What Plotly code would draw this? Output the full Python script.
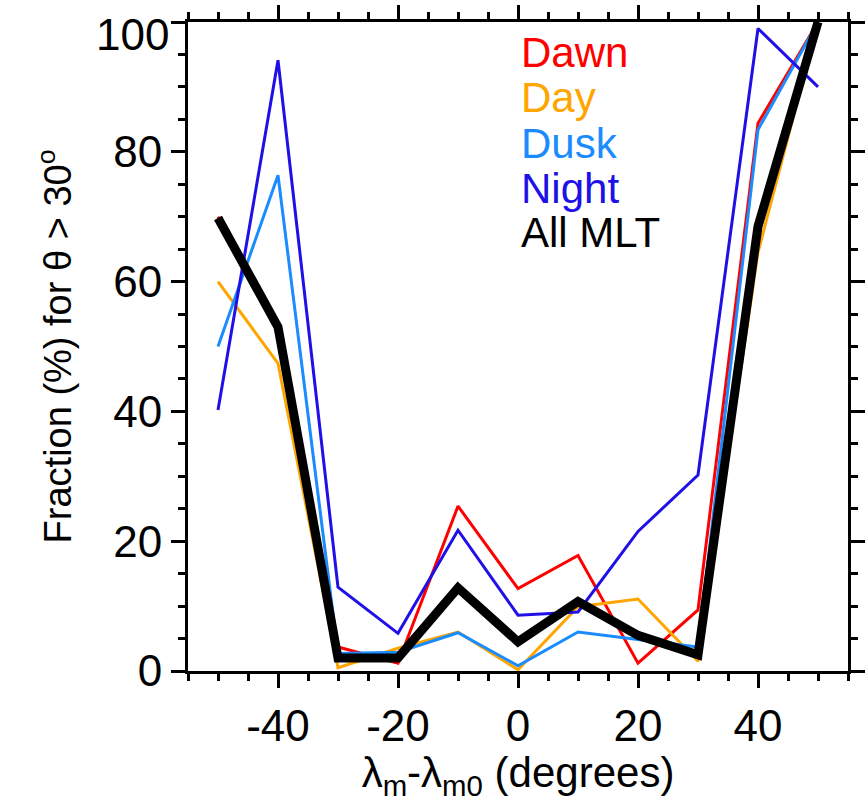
import plotly.graph_objects as go

# Magnetic latitude offset bins (degrees)
lat_offset = [-50, -40, -30, -20, -10, 0, 10, 20, 30, 40, 50]

# Fraction (%) of events with theta > 30 deg, per MLT sector
dawn = [70, 53, 3.7, 1.2, 25.4, 12.7, 17.8, 1.2, 9.4, 84.4, 100]
day = [60, 47.4, 0.5, 3.5, 6.0, 0.2, 9.9, 11.1, 1.5, 64.5, 100]
dusk = [50, 76.4, 2.7, 2.9, 5.9, 0.8, 6.0, 4.8, 3.7, 83.4, 100]
night = [40.2, 94.1, 12.9, 5.8, 21.7, 8.6, 9.1, 21.5, 30.2, 99.0, 90]
all_mlt = [69.8, 53, 2.0, 2.0, 12.8, 4.5, 10.7, 5.5, 2.5, 68.5, 100]

series_names = ["Dawn", "Day", "Dusk", "Night", "All MLT"]
series_values = [dawn, day, dusk, night, all_mlt]
series_colors = ["#FF0000", "#FFA500", "#1A8CFF", "#2010E8", "#000000"]
series_widths = [3, 3, 3, 3, 9]

x_ticks = [-40, -20, 0, 20, 40]
y_ticks = [0, 20, 40, 60, 80, 100]
x_range = [-55, 55]
y_range = [0, 100]

FONT = "Liberation Sans, Arial, Helvetica, sans-serif"
TICK_FONT = dict(family=FONT, size=44, color="black")

fig = go.Figure()
for name, vals, col, w in zip(series_names, series_values, series_colors, series_widths):
    fig.add_trace(go.Scatter(
        x=lat_offset, y=vals, mode="lines", name=name,
        line=dict(color=col, width=w), showlegend=False,
    ))

# Coloured text key in the upper middle of the panel
key_y = [0.953, 0.884, 0.813, 0.744, 0.675]
for name, col, yk in zip(series_names, series_colors, key_y):
    fig.add_annotation(
        x=0.502, y=yk, xref="paper", yref="paper", text=name,
        showarrow=False, xanchor="left", yanchor="middle",
        font=dict(family=FONT, size=42, color=col),
    )

# The top y label would run off the page, so it is drawn nudged down
y_tick_text = [str(v) for v in y_ticks]
top_label = y_tick_text[-1]
y_tick_text[-1] = ""
fig.add_annotation(
    x=0, y=1, xref="paper", yref="paper", text=top_label,
    showarrow=False, xanchor="right", yanchor="top",
    xshift=-17, yshift=14, font=TICK_FONT,
)

minor_ticks = dict(dtick=5, tick0=0, ticks="outside", ticklen=7, tickwidth=2.5, tickcolor="black")
axis_common = dict(
    showline=True, linecolor="black", linewidth=3,
    ticks="outside", ticklen=14, tickwidth=2.5, tickcolor="black",
    showgrid=False, zeroline=False, automargin=False,
    ticklabeloverflow="allow",
    tickfont=TICK_FONT,
    minor=minor_ticks,
)

fig.update_layout(
    width=865, height=802,
    margin=dict(l=188, r=17, t=22, b=131),
    paper_bgcolor="white", plot_bgcolor="white",
    xaxis=dict(
        range=x_range, autorange=False, tickvals=x_ticks, ticktext=[str(v) for v in x_ticks],
        title=dict(text="λ<sub>m</sub>-λ<sub>m0</sub> (degrees)",
                   font=dict(family=FONT, size=42, color="black"), standoff=6),
        **axis_common,
    ),
    yaxis=dict(
        range=y_range, autorange=False, tickvals=y_ticks, ticktext=y_tick_text,
        title=dict(text="Fraction (%) for θ > 30<sup>o</sup>",
                   font=dict(family=FONT, size=38, color="black"), standoff=30),
        **axis_common,
    ),
    # Tick-only frame on the top and right sides
    xaxis2=dict(
        overlaying="x", side="top", matches="x", range=x_range, autorange=False,
        tickvals=x_ticks, showticklabels=False, **axis_common,
    ),
    yaxis2=dict(
        overlaying="y", side="right", matches="y", range=y_range, autorange=False,
        tickvals=y_ticks, showticklabels=False, **axis_common,
    ),
)

# Invisible anchor trace so the top/right axes are rendered
fig.add_trace(go.Scatter(
    x=[lat_offset[0]], y=[all_mlt[0]], xaxis="x2", yaxis="y2",
    mode="markers", marker=dict(opacity=0), showlegend=False, hoverinfo="skip",
))

fig.write_html("out.html")
